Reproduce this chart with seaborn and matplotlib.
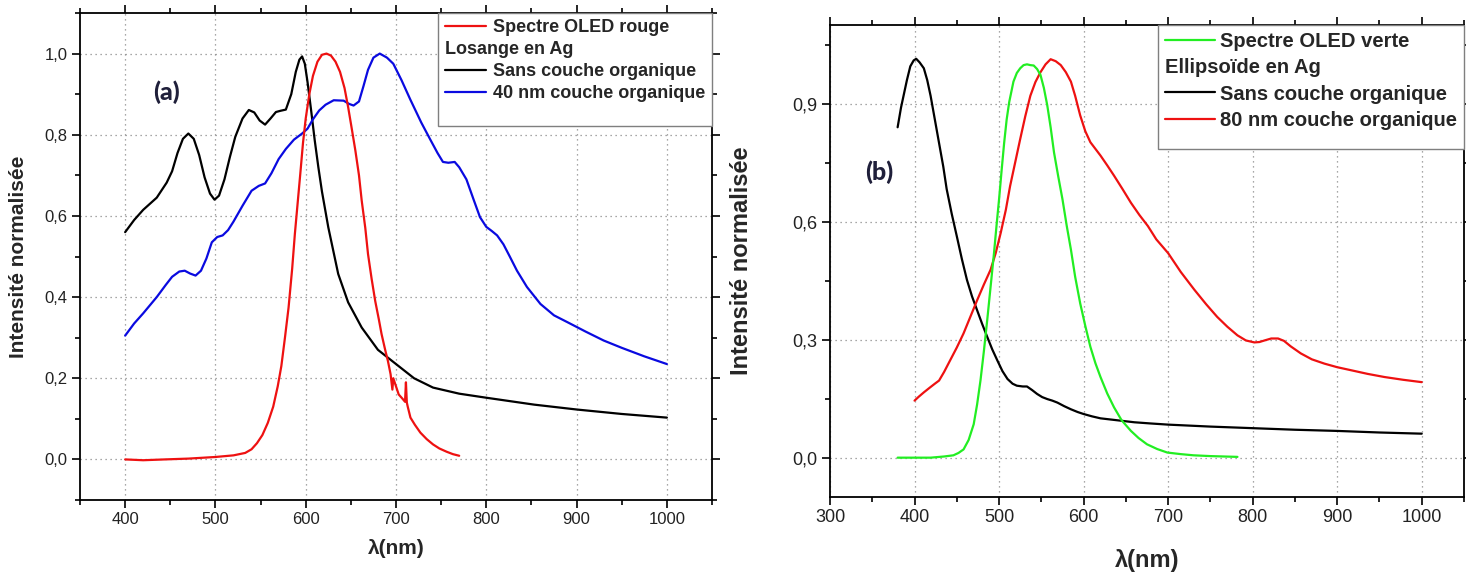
import matplotlib
matplotlib.use("Agg")
import matplotlib.pyplot as plt
from matplotlib.lines import Line2D
from matplotlib.ticker import MultipleLocator, FuncFormatter
import seaborn as sns

# ---------------- panel (a): Losange en Ag ----------------
wl_black_a = [400, 410, 420, 435, 446, 452, 458, 464, 470, 476, 482, 488, 494, 499, 504, 510,
              516, 522, 530, 537, 543, 549, 555, 561, 567, 572, 578, 584, 589, 593, 596, 599,
              602, 606, 610, 614, 618, 625, 636, 647, 662, 680, 700, 720, 741, 770, 800, 853,
              900, 950, 1000]
int_black_a = [0.56, 0.59, 0.615, 0.645, 0.682, 0.71, 0.755, 0.79, 0.803, 0.79, 0.75, 0.695,
               0.655, 0.64, 0.65, 0.69, 0.745, 0.795, 0.84, 0.861, 0.855, 0.835, 0.825, 0.84,
               0.856, 0.859, 0.862, 0.9, 0.955, 0.985, 0.993, 0.975, 0.93, 0.86, 0.786, 0.72,
               0.66, 0.572, 0.457, 0.387, 0.325, 0.27, 0.235, 0.2, 0.177, 0.162, 0.152, 0.135,
               0.123, 0.112, 0.103]

wl_blue_a = [400, 410, 420, 435, 445, 452, 460, 466, 472, 478, 484, 490, 496, 502, 508, 514,
             520, 530, 540, 548, 555, 562, 570, 578, 587, 596, 602, 608, 615, 622, 631, 642,
             648, 653, 659, 664, 669, 675, 682, 690, 697, 706, 716, 728, 738, 746, 752, 758,
             765, 770, 778, 786, 793, 800, 806, 812, 819, 826, 834, 845, 860, 875, 890, 910,
             930, 950, 975, 1000]
int_blue_a = [0.305, 0.335, 0.36, 0.40, 0.43, 0.45, 0.463, 0.465, 0.458, 0.453, 0.465, 0.495,
              0.535, 0.548, 0.552, 0.565, 0.586, 0.625, 0.662, 0.674, 0.68, 0.705, 0.74, 0.765,
              0.788, 0.803, 0.815, 0.838, 0.86, 0.874, 0.885, 0.884, 0.876, 0.872, 0.882, 0.92,
              0.96, 0.99, 1.0, 0.99, 0.975, 0.935, 0.886, 0.83, 0.788, 0.755, 0.733, 0.731,
              0.733, 0.72, 0.69, 0.64, 0.597, 0.573, 0.563, 0.552, 0.53, 0.5, 0.465, 0.425,
              0.383, 0.355, 0.338, 0.315, 0.293, 0.275, 0.254, 0.235]

wl_red_a = [400, 420, 444, 470, 500, 520, 533, 540, 546, 552, 558, 564, 569, 573, 577, 581,
            585, 588, 591, 594, 597, 600, 604, 608, 613, 618, 623, 628, 633, 638, 643, 647,
            651, 655, 659, 662, 666, 669, 673, 677, 681, 684, 688, 691, 694, 696, 697, 700,
            703, 707, 710, 711, 712, 713, 716, 721, 727, 734, 741, 748, 756, 763, 770]
int_red_a = [0.0, -0.002, 0.0, 0.002, 0.006, 0.01, 0.016, 0.025, 0.04, 0.06, 0.09, 0.13, 0.18,
             0.23, 0.3, 0.374, 0.47, 0.556, 0.63, 0.704, 0.78, 0.84, 0.9, 0.945, 0.98, 0.997,
             1.0, 0.995, 0.98, 0.955, 0.915, 0.868, 0.815, 0.761, 0.7, 0.638, 0.57, 0.506,
             0.445, 0.39, 0.345, 0.309, 0.27, 0.243, 0.21, 0.172, 0.2, 0.18, 0.16, 0.15, 0.142,
             0.19, 0.14, 0.13, 0.103, 0.085, 0.066, 0.05, 0.037, 0.027, 0.019, 0.013, 0.009]

# ---------------- panel (b): Ellipsoïde en Ag ----------------
wl_green_b = [380, 400, 419, 435, 446, 452, 458, 464, 470, 474, 478, 482, 486, 490, 494, 497,
              500, 503, 506, 509, 512, 517, 521, 525, 529, 533, 537, 541, 545, 549, 553, 557,
              561, 565, 570, 575, 580, 585, 590, 596, 602, 608, 614, 620, 628, 636, 645, 656,
              665, 675, 687, 699, 715, 730, 750, 782]
int_green_b = [0.0, 0.0, 0.0, 0.003, 0.006, 0.012, 0.021, 0.045, 0.085, 0.135, 0.196, 0.27,
               0.35, 0.435, 0.52, 0.59, 0.657, 0.73, 0.8, 0.86, 0.904, 0.956, 0.978, 0.99,
               0.998, 1.0, 0.998, 0.997, 0.988, 0.973, 0.94, 0.896, 0.84, 0.776, 0.715, 0.657,
               0.59, 0.529, 0.46, 0.392, 0.335, 0.282, 0.24, 0.205, 0.163, 0.128, 0.095, 0.068,
               0.05, 0.034, 0.022, 0.013, 0.009, 0.006, 0.004, 0.002]

wl_black_b = [380, 384, 387, 391, 395, 399, 402, 406, 411, 415, 419, 424, 429, 434, 438, 444,
              450, 456, 462, 468, 474, 480, 486, 492, 498, 504, 510, 516, 521, 528, 533, 539,
              545, 551, 557, 563, 569, 577, 585, 593, 600, 610, 620, 632, 644, 660, 679, 700,
              750, 800, 850, 900, 950, 1000]
int_black_b = [0.84, 0.89, 0.92, 0.96, 0.995, 1.01, 1.014, 1.005, 0.99, 0.96, 0.92, 0.86, 0.8,
               0.74, 0.683, 0.62, 0.563, 0.505, 0.452, 0.41, 0.375, 0.34, 0.307, 0.275, 0.247,
               0.22, 0.2, 0.188, 0.183, 0.181, 0.181, 0.172, 0.162, 0.154, 0.149, 0.145, 0.14,
               0.131, 0.123, 0.116, 0.111, 0.105, 0.1, 0.097, 0.094, 0.09, 0.087, 0.084, 0.079,
               0.075, 0.071, 0.068, 0.064, 0.061]

wl_red_b = [400, 405, 411, 418, 424, 429, 435, 442, 450, 458, 466, 474, 482, 490, 496, 502,
            508, 513, 519, 525, 531, 537, 543, 549, 555, 561, 567, 573, 579, 585, 590, 596,
            602, 608, 614, 620, 628, 636, 646, 656, 666, 676, 686, 700, 715, 731, 745, 758,
            770, 782, 792, 802, 808, 814, 822, 830, 837, 845, 857, 870, 885, 900, 917, 936,
            956, 978, 1000]
int_red_b = [0.145, 0.155, 0.166, 0.178, 0.188, 0.196, 0.218, 0.247, 0.28, 0.316, 0.358, 0.40,
             0.44, 0.478, 0.52, 0.572, 0.63, 0.69, 0.75, 0.81, 0.868, 0.92, 0.955, 0.98, 1.0,
             1.013, 1.008, 0.998, 0.98, 0.956, 0.92, 0.87, 0.83, 0.802, 0.785, 0.768, 0.743,
             0.717, 0.683, 0.648, 0.617, 0.589, 0.555, 0.52, 0.472, 0.427, 0.39, 0.358, 0.333,
             0.311, 0.298, 0.293, 0.294, 0.298, 0.303, 0.303, 0.297, 0.283, 0.265, 0.25, 0.239,
             0.23, 0.222, 0.213, 0.205, 0.198, 0.192]

# ticks / labels
yticks_a = [0.0, 0.2, 0.4, 0.6, 0.8, 1.0]
xticks_a = [400, 500, 600, 700, 800, 900, 1000]
yticks_b = [0.0, 0.3, 0.6, 0.9]
xticks_b = [300, 400, 500, 600, 700, 800, 900, 1000]

sns.set_style("ticks")
plt.rcParams["font.family"] = ["Liberation Sans", "DejaVu Sans"]

fig = plt.figure(figsize=(14.66, 5.74), dpi=100)
ax_a = fig.add_axes([80 / 1466, 74 / 574, 632 / 1466, 487 / 574])
ax_b = fig.add_axes([830 / 1466, 77 / 574, 634 / 1466, 472 / 574])

comma = FuncFormatter(lambda v, pos: f"{v:.1f}".replace(".", ","))


def style_axes(ax, xlim, ylim, xticks, yticks, yminor, tick_fs, label_fs):
    ax.set_xlim(*xlim)
    ax.set_ylim(*ylim)
    ax.set_xticks(xticks)
    ax.set_yticks(yticks)
    ax.xaxis.set_minor_locator(MultipleLocator(50))
    ax.yaxis.set_minor_locator(MultipleLocator(yminor))
    ax.yaxis.set_major_formatter(comma)
    ax.grid(True, which="major", linestyle=(0, (1, 3)), color="#8a8a8a", linewidth=0.9)
    ax.tick_params(which="both", direction="out", top=True, right=True,
                   labeltop=False, labelright=False, colors="black",
                   labelcolor="#222222", labelsize=tick_fs, width=1.2, pad=3)
    ax.tick_params(which="major", length=6)
    ax.tick_params(which="minor", length=3.5)
    for sp in ax.spines.values():
        sp.set_linewidth(1.3)
        sp.set_color("black")
    ax.set_xlabel("λ(nm)", fontsize=label_fs, fontweight="bold")
    ax.set_ylabel("Intensité normalisée", fontsize=label_fs, fontweight="bold")


def add_legend(ax, names, header, fs, hlen, hpad, lspace, tail_fs):
    lines = {ln.get_label(): ln for ln in ax.get_lines()}
    blank = Line2D([], [], color="none")
    handles = [lines[names[0]], blank, lines[names[1]], lines[names[2]], blank]
    labels = [names[0], header, names[1], names[2], " "]
    leg = ax.legend(handles, labels, loc="upper right", borderaxespad=0, fancybox=False,
                    framealpha=1, edgecolor="#7f7f7f", handlelength=hlen,
                    handletextpad=hpad, labelspacing=lspace, borderpad=0.35,
                    prop={"weight": "bold", "size": fs})
    leg.get_frame().set_linewidth(1.0)
    rows = leg._legend_handle_box.get_children()[0].get_children()
    # header row has no line: remove its handle space
    rows[1].get_children()[0].set_width(0)
    rows[1].sep = 0
    # empty space kept at the bottom of the box
    rows[4].get_children()[0].set_height(0)
    leg.get_texts()[4].set_fontsize(tail_fs)
    return leg


# panel (a)
lw = 1.6
sns.lineplot(x=wl_black_a, y=int_black_a, ax=ax_a, color="black", lw=lw,
             label="Sans couche organique", estimator=None)
sns.lineplot(x=wl_blue_a, y=int_blue_a, ax=ax_a, color="#0a0ae0", lw=lw,
             label="40 nm couche organique", estimator=None)
sns.lineplot(x=wl_red_a, y=int_red_a, ax=ax_a, color="#ee1111", lw=lw,
             label="Spectre OLED rouge", estimator=None)
style_axes(ax_a, (350, 1050), (-0.1, 1.1), xticks_a, yticks_a, 0.1, 12, 15)
add_legend(ax_a, ["Spectre OLED rouge", "Sans couche organique", "40 nm couche organique"],
           "Losange en Ag", 13, 2.3, 0.4, 0.28, 9)
ax_a.text(446, 0.906, "(a)", fontsize=18, fontweight=900, color="#1f1f3a",
          family=["Lato", "DejaVu Sans"], ha="center", va="center")

# panel (b)
sns.lineplot(x=wl_black_b, y=int_black_b, ax=ax_b, color="black", lw=lw,
             label="Sans couche organique", estimator=None)
sns.lineplot(x=wl_red_b, y=int_red_b, ax=ax_b, color="#ee1111", lw=lw,
             label="80 nm couche organique", estimator=None)
sns.lineplot(x=wl_green_b, y=int_green_b, ax=ax_b, color="#22ee22", lw=lw,
             label="Spectre OLED verte", estimator=None)
style_axes(ax_b, (300, 1050), (-0.1, 1.1), xticks_b, yticks_b, 0.15, 13, 17)
add_legend(ax_b, ["Spectre OLED verte", "Sans couche organique", "80 nm couche organique"],
           "Ellipsoïde en Ag", 14.5, 2.5, 0.25, 0.36, 4)
ax_b.text(358, 0.725, "(b)", fontsize=18, fontweight=900, color="#1f1f3a",
          family=["Lato", "DejaVu Sans"], ha="center", va="center")

ax_a.yaxis.set_label_coords(-0.082, 0.5)
ax_b.yaxis.set_label_coords(-0.121, 0.5)
ax_a.xaxis.set_label_coords(0.5, -0.08)
ax_b.xaxis.set_label_coords(0.5, -0.11)

fig.savefig("out.png", dpi=100)
